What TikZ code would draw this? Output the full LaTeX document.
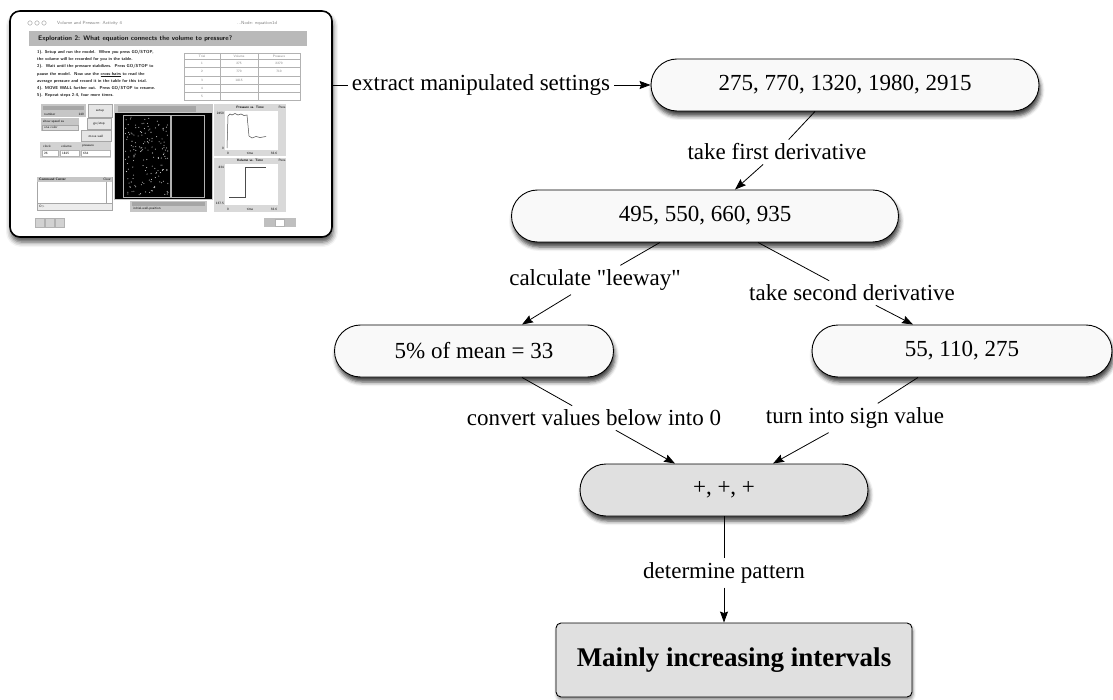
\documentclass[tikz,border=0pt]{standalone}
\usepackage{fontspec}
\setmainfont{Liberation Serif}
\usetikzlibrary{arrows.meta,shadows.blur}
\newcommand{\tinyfont}{\sffamily\fontsize{3.3}{4}\selectfont}

\begin{document}
\begin{tikzpicture}[x=1pt,y=-1pt,
    pill/.style={draw, line width=0.9pt, rounded corners=26pt, fill=gray!5, minimum height=52pt, inner sep=0pt, font=\fontsize{23}{27}\selectfont, blur shadow={shadow xshift=1.5pt, shadow yshift=-5pt, shadow blur radius=4pt, shadow opacity=75}},
    greypill/.style={pill, fill=gray!24},
    result/.style={draw, line width=0.9pt, rounded corners=5pt, fill=gray!24, minimum width=356pt, minimum height=74pt, font=\fontsize{27}{32}\selectfont\bfseries, blur shadow={shadow xshift=1pt, shadow yshift=-3pt, shadow blur radius=3pt, shadow opacity=45}},
    lbl/.style={inner sep=4pt, font=\fontsize{23}{27}\selectfont},
    arr/.style={-{Stealth[length=11pt,width=8pt,inset=1.5pt]}, line width=0.8pt},
    con/.style={line width=0.8pt},
    tiny/.style={inner sep=0pt, font=\tinyfont},
    btn/.style={draw=gray!70, fill=gray!20, line width=0.3pt},
    panel/.style={fill=gray!45},
  ]
  \useasboundingbox (0,0) rectangle (1113,700);

  % Screenshot window
  \node[draw, line width=1.6pt, rounded corners=10pt, fill=white, minimum width=322pt, minimum height=226pt, blur shadow={shadow xshift=1pt, shadow yshift=-5pt, shadow blur radius=5pt, shadow opacity=70}] (scr) at (171,124) {};
  \foreach \cx in {30,37,44} \draw[gray, line width=0.3pt] (\cx,23) circle (2.2);
  \node[tiny, anchor=west, gray, font=\sffamily\fontsize{4.5}{5}\selectfont] at (57,23) {Volume and Pressure: Activity 4};
  \node[tiny, anchor=west, gray, font=\sffamily\fontsize{4.5}{5}\selectfont] at (237,23) {...Node: equation1d};
  \fill[gray!55] (29,31) rectangle (307,46);
  \node[tiny, anchor=west, font=\sffamily\bfseries\fontsize{6.6}{7}\selectfont, gray!15!black] at (38,38.5) {Exploration 2: What equation connects the volume to pressure?};
  \node[tiny, anchor=north west, align=left, font=\sffamily\bfseries\fontsize{4.3}{7.2}\selectfont, gray!20!black] at (37,50) {1). Setup and run the model.\ \ When you press GO/STOP,\\the volume will be recorded for you in the table.\\2).\ \ Wait until the pressure stabilizes.\ \ Press GO/STOP to\\pause the model.\ \ Now use the \underline{cross-hairs} to read the\\average pressure and record it in the table for this trial.\\4). MOVE WALL further out.\ \ Press GO/STOP to resume.\\5). Repeat steps 2-4, four more times.};

  % Table
  \draw[gray!60, line width=0.4pt] (184,53) rectangle (300,100);
  \foreach \tx in {220,258} \draw[gray!60, line width=0.4pt] (\tx,53) -- (\tx,100);
  \foreach \ty in {59,67,76,84,92} \draw[gray!60, line width=0.4pt] (184,\ty) -- (300,\ty);
  \node[tiny, gray] at (202,56) {Trial};
  \node[tiny, gray] at (239,56) {Volume};
  \node[tiny, gray] at (279,56) {Pressure};
  \foreach \r/\ry in {1/63,2/71.5,3/80,4/88,5/96} \node[tiny, gray] at (202,\ry) {\r};
  \node[tiny, gray] at (239,63) {275};
  \node[tiny, gray] at (279,63) {2270};
  \node[tiny, gray] at (239,71.5) {770};
  \node[tiny, gray] at (279,71.5) {710};
  \node[tiny, gray] at (239,80) {1815};

  % Interface widgets
  \fill[panel] (41,104) rectangle (86,117);
  \fill[gray!70] (43,106) rectangle (84,110);
  \node[tiny, anchor=west] at (44,114) {number};
  \node[tiny, anchor=east] at (84,114) {140};
  \draw[btn] (88,104) rectangle (112,117);
  \node[tiny] at (100,111) {setup};
  \fill[panel] (41,118) rectangle (79,131);
  \node[tiny, anchor=west] at (43,121.5) {show speed as};
  \draw[btn, fill=gray!30] (42,125) rectangle (78,130);
  \node[tiny, anchor=west] at (44,127.5) {one color};
  \draw[btn] (87,118) rectangle (111,129);
  \node[tiny] at (99,124) {go/stop};
  \draw[btn] (81,130) rectangle (111,141);
  \node[tiny] at (96,136) {move wall};
  \fill[gray!35] (40,142) rectangle (111,158);
  \foreach \mx/\mw/\mlab/\mval in {42/16/clock/26, 60/19/volume/1815, 81/29/pressure/634} {
    \node[tiny, anchor=west] at (\mx+1,146) {\mlab};
    \draw[gray!60, fill=white, line width=0.3pt] (\mx,150) rectangle (\mx+\mw,156.5);
    \node[tiny, anchor=west] at (\mx+2,153.3) {\mval};
  }
  % Command center
  \draw[gray!70, fill=white, line width=0.4pt] (37,177) rectangle (112,210);
  \fill[gray!45] (37,177) rectangle (112,182);
  \node[tiny, anchor=west, font=\sffamily\bfseries\fontsize{3.3}{4}\selectfont] at (39,179.5) {Command Center};
  \node[tiny, anchor=east] at (111,179.5) {Clear};
  \draw[gray!70, line width=0.3pt] (106,182) -- (106,203);
  \draw[gray!70, fill=gray!15, line width=0.3pt] (37,203) rectangle (112,210);
  \node[tiny, anchor=west] at (39,206.5) {O>};
  % World view
  \fill[gray!45] (114,104) rectangle (213,200);
  \fill[gray!70] (118,106) rectangle (196,112);
  \fill[black] (115,113) rectangle (212,199);
  \draw[gray!60, line width=0.5pt] (123,115) rectangle (170,197);
  \draw[gray!60, line width=0.5pt] (171,115) rectangle (204,197);
  \pgfmathsetseed{42}
  \foreach \k in {1,...,160} {
    \pgfmathsetmacro{\dx}{125+43*rnd}
    \pgfmathsetmacro{\dy}{117+78*rnd}
    \fill[gray!45] (\dx,\dy) circle (0.55);
  }
  \fill[gray!45] (130,201) rectangle (207,212);
  \fill[gray!70] (132,202) rectangle (205,206);
  \node[tiny, anchor=west] at (133,209) {initial-wall-position};
  % Plots
  \fill[gray!30] (214,104) rectangle (286,156);
  \fill[white] (225,111) rectangle (278,150);
  \node[tiny, font=\sffamily\bfseries\fontsize{3.3}{4}\selectfont] at (250,107.5) {Pressure vs. Time};
  \node[tiny] at (282,107.5) {Pens};
  \node[tiny, anchor=east] at (224,113) {2450};
  \node[tiny, anchor=east] at (224,148) {0};
  \node[tiny] at (228,153) {0};
  \node[tiny] at (250,153) {time};
  \node[tiny] at (274,153) {32.6};
  \draw[gray!60!black, line width=0.5pt] (227,148) -- (228,116) -- (230,114) -- (232,115) -- (235,113.5) -- (238,115) -- (241,114) -- (244,115.5) -- (247,115) -- (249,136) -- (252,138) -- (256,136.5) -- (260,137.5) -- (266,136.5);
  \fill[gray!30] (214,158) rectangle (286,212);
  \fill[white] (225,164) rectangle (278,205);
  \node[tiny, font=\sffamily\bfseries\fontsize{3.3}{4}\selectfont] at (250,160.5) {Volume vs. Time};
  \node[tiny] at (282,160.5) {Pens};
  \node[tiny, anchor=east] at (224,167) {834};
  \node[tiny, anchor=east] at (224,203) {137.5};
  \node[tiny] at (228,209) {0};
  \node[tiny] at (250,209) {time};
  \node[tiny] at (274,209) {32.6};
  \draw[gray!60!black, line width=0.5pt] (229,197) -- (245,197) -- (245,167) -- (266,167);
  % Toolbar icons
  \foreach \ix in {35,45,55} \draw[gray!60, fill=gray!35, line width=0.3pt] (\ix,218) rectangle (\ix+9,227);
  \fill[gray!50] (264,218) rectangle (296,227);
  \draw[gray!60, fill=white, line width=0.3pt] (275,219) rectangle (284,226);

  % Flow nodes
  \node[pill, minimum width=388pt] (n1) at (845,85) {275, 770, 1320, 1980, 2915};
  \node[pill, minimum width=387pt] (n2) at (705,216) {495, 550, 660, 935};
  \node[pill, minimum width=279pt] (n3) at (474,351) {5\% of mean = 33};
  \node[pill, minimum width=300pt] (n4) at (962,351) {55, 110, 275};
  \node[greypill, minimum width=288pt] (n5) at (724,490) {+, +, +};
  \node[result] (n6) at (734,660) {Mainly increasing intervals};

  % Edge labels
  \node[lbl] (lbl0) at (481,85) {extract manipulated settings};
  \node[lbl] (lbl1) at (777,152) {take first derivative};
  \node[lbl] (lbl2) at (595,280) {calculate \textquotedbl leeway\textquotedbl};
  \node[lbl] (lbl3) at (852,293) {take second derivative};
  \node[lbl] (lbl4) at (594,418) {convert values below into 0};
  \node[lbl] (lbl5) at (855,418) {turn into sign value};
  \node[lbl] (lbl6) at (724,573) {determine pattern};

  % Connectors
  \draw[con] (scr.east |- lbl0) -- (lbl0);
  \draw[arr] (lbl0) -- (n1);
  \draw[con] ([xshift=-30pt]n1.south) -- (lbl1);
  \draw[arr] (lbl1) -- ([xshift=30pt]n2.north);
  \draw[con] ([xshift=-45pt]n2.south) -- (lbl2);
  \draw[arr] (lbl2) -- ([xshift=48pt]n3.north);
  \draw[con] ([xshift=53pt]n2.south) -- (lbl3);
  \draw[arr] (lbl3) -- ([xshift=-49pt]n4.north);
  \draw[con] ([xshift=48pt]n3.south) -- (lbl4);
  \draw[arr] (lbl4) -- ([xshift=-49pt]n5.north);
  \draw[con] ([xshift=-44pt]n4.south) -- (lbl5);
  \draw[arr] (lbl5) -- ([xshift=49pt]n5.north);
  \draw[con] (n5.south) -- (lbl6);
  \draw[arr] (lbl6) -- (lbl6 |- n6.north);
\end{tikzpicture}
\end{document}
